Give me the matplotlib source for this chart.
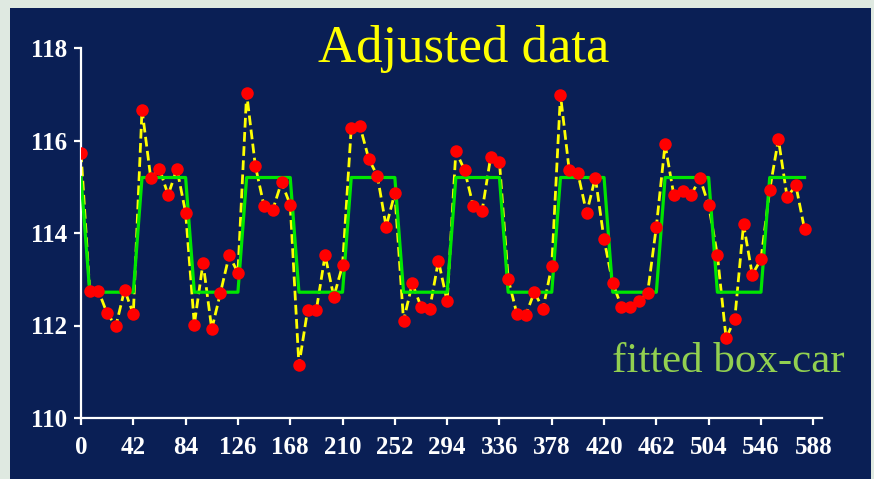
import matplotlib.pyplot as plt
from matplotlib.patches import Rectangle

# sample days (every 7 days) and adjusted values
days = [0, 7, 14, 21, 28, 35, 42, 49, 56, 63, 70, 77, 84, 91, 98, 105, 112, 119, 126,
        133, 140, 147, 154, 161, 168, 175, 182, 189, 196, 203, 210, 217, 224, 231, 238,
        245, 252, 259, 266, 273, 280, 287, 294, 301, 308, 315, 322, 329, 336, 343, 350,
        357, 364, 371, 378, 385, 392, 399, 406, 413, 420, 427, 434, 441, 448, 455, 462,
        469, 476, 483, 490, 497, 504, 511, 518, 525, 532, 539, 546, 553, 560, 567, 574, 581]
values = [115.74, 112.75, 112.75, 112.26, 111.99, 112.77, 112.25,
          116.67, 115.19, 115.39, 114.82, 115.39, 114.44,
          112.02, 113.36, 111.92, 112.71, 113.52, 113.14,
          117.02, 115.45, 114.58, 114.50, 115.10, 114.61,
          111.14, 112.34, 112.34, 113.52, 112.62, 113.30,
          116.27, 116.31, 115.61, 115.23, 114.14, 114.86,
          112.10, 112.91, 112.41, 112.36, 113.40, 112.52,
          115.77, 115.36, 114.58, 114.47, 115.65, 115.54,
          113.01, 112.25, 112.22, 112.72, 112.36, 113.29,
          116.99, 115.36, 115.29, 114.43, 115.20, 113.86,
          112.91, 112.41, 112.41, 112.52, 112.71, 114.14,
          115.92, 114.82, 114.90, 114.82, 115.19, 114.60,
          113.52, 111.72, 112.15, 114.19, 113.10, 113.43,
          114.93, 116.03, 114.77, 115.03, 114.08]

# fitted box-car levels at each sample
H = 115.2
L = 112.72
boxcar = [H, L, L, L, L, L, L,
          H, H, H, H, H, H,
          L, L, L, L, L, L,
          H, H, H, H, H, H,
          L, L, L, L, L, L,
          H, H, H, H, H, H,
          L, L, L, L, L, L,
          H, H, H, H, H, H,
          L, L, L, L, L, L,
          H, H, H, H, H, H,
          L, L, L, L, L, L,
          H, H, H, H, H, H,
          L, L, L, L, L, L,
          H, H, H, H, H]

xticks = [0, 42, 84, 126, 168, 210, 252, 294, 336, 378, 420, 462, 504, 546, 588]
yticks = [110, 112, 114, 116, 118]

navy = '#0a1f55'
fig = plt.figure(figsize=(8.74, 4.79), dpi=100, facecolor='#dfe9e1')
fig.patches.append(Rectangle((10 / 874, 0), 861 / 874, 1 - 8 / 479,
                             transform=fig.transFigure, facecolor=navy,
                             edgecolor='none', zorder=-1))

ax = fig.add_axes([81 / 874, 61 / 479, 741 / 874, 370 / 479])
ax.set_facecolor('none')
ax.set_zorder(1)

ax.plot(days, values, color='#ffff00', lw=2.0, linestyle=(0, (3.5, 1.6)), zorder=2)
ax.plot(days, boxcar, color='#00e600', lw=2.3, zorder=3)
ax.plot(days, values, 'o', color='#ff0000', markersize=9, markeredgewidth=0, zorder=4)

ax.set_xlim(0, 595)
ax.set_ylim(110, 118)
ax.set_xticks(xticks)
ax.set_yticks(yticks)
for s in ['top', 'right']:
    ax.spines[s].set_visible(False)
for s in ['left', 'bottom']:
    ax.spines[s].set_color('white')
    ax.spines[s].set_linewidth(1.6)
ax.tick_params(colors='white', width=1.6, length=5)
ax.tick_params(axis='x', pad=8)
ax.tick_params(axis='y', pad=5)
for lab in ax.get_xticklabels() + ax.get_yticklabels():
    lab.set_fontfamily('Liberation Serif')
    lab.set_fontweight('bold')
    lab.set_fontsize(18)

fig.text(464 / 874, 1 - 62 / 479, 'Adjusted data', color='#ffff00',
         family='Liberation Serif', fontsize=38, ha='center', va='baseline')
fig.text(728 / 874, 1 - 372 / 479, 'fitted box-car', color='#92d050',
         family='Liberation Serif', fontsize=31, ha='center', va='baseline')

plt.savefig('out.png', dpi=100, facecolor=fig.get_facecolor())
